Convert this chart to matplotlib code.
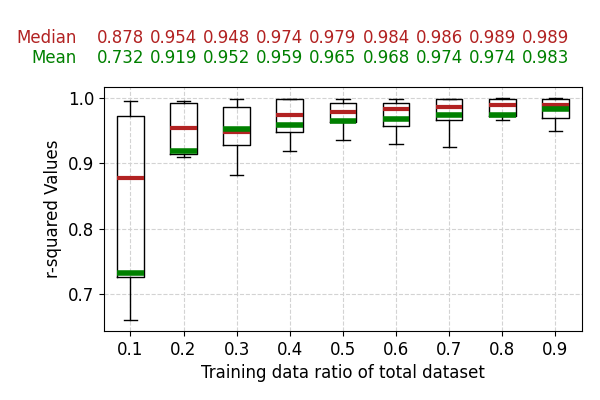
import matplotlib
matplotlib.use("Agg")
import matplotlib.pyplot as plt
import matplotlib.transforms as mtransforms

# r-squared summaries per training ratio
ratios = ["0.1", "0.2", "0.3", "0.4", "0.5", "0.6", "0.7", "0.8", "0.9"]
medians = [0.878, 0.954, 0.948, 0.974, 0.979, 0.984, 0.986, 0.989, 0.989]
means = [0.732, 0.919, 0.952, 0.959, 0.965, 0.968, 0.974, 0.974, 0.983]
q1 = [0.726, 0.915, 0.928, 0.948, 0.963, 0.957, 0.966, 0.973, 0.970]
q3 = [0.972, 0.993, 0.987, 0.998, 0.993, 0.993, 0.998, 0.998, 0.998]
whislo = [0.660, 0.910, 0.882, 0.919, 0.935, 0.930, 0.925, 0.966, 0.949]
whishi = [0.995, 0.996, 0.998, 0.998, 0.998, 0.998, 0.998, 1.000, 1.000]

stats = []
for i in range(len(ratios)):
    stats.append({"label": ratios[i], "med": medians[i], "mean": means[i],
                  "q1": q1[i], "q3": q3[i], "whislo": whislo[i],
                  "whishi": whishi[i], "fliers": []})

fig = plt.figure(figsize=(6, 4), dpi=100)
ax = fig.add_axes([0.173, 0.1725, 0.797, 0.61])

ax.bxp(stats, showmeans=True, meanline=True, widths=0.5,
       boxprops=dict(color="black"),
       medianprops=dict(color="#B22222", linewidth=3),
       meanprops=dict(color="green", linestyle="-", linewidth=4))

ax.set_ylim(0.643, 1.017)
ax.set_yticks([0.7, 0.8, 0.9, 1.0])
ax.tick_params(labelsize=12)
ax.grid(True, linestyle="--", color="lightgray")
ax.set_axisbelow(True)
ax.set_xlabel("Training data ratio of total dataset", fontsize=12)
ax.set_ylabel("r-squared Values", fontsize=12)

# values above the plot (slightly left of each box)
offset = mtransforms.ScaledTranslation(-10 / 100, 0, fig.dpi_scale_trans)
trans = mtransforms.blended_transform_factory(ax.transData, fig.transFigure) + offset
for i in range(len(ratios)):
    ax.text(i + 1, 0.905, f"{medians[i]:.3f}", transform=trans, ha="center",
            va="center", color="#B22222", fontsize=12)
    ax.text(i + 1, 0.855, f"{means[i]:.3f}", transform=trans, ha="center",
            va="center", color="green", fontsize=12)
fig.text(0.128, 0.905, "Median", ha="right", va="center", color="#B22222", fontsize=12)
fig.text(0.128, 0.855, "Mean", ha="right", va="center", color="green", fontsize=12)

fig.savefig("out.png", dpi=100)
